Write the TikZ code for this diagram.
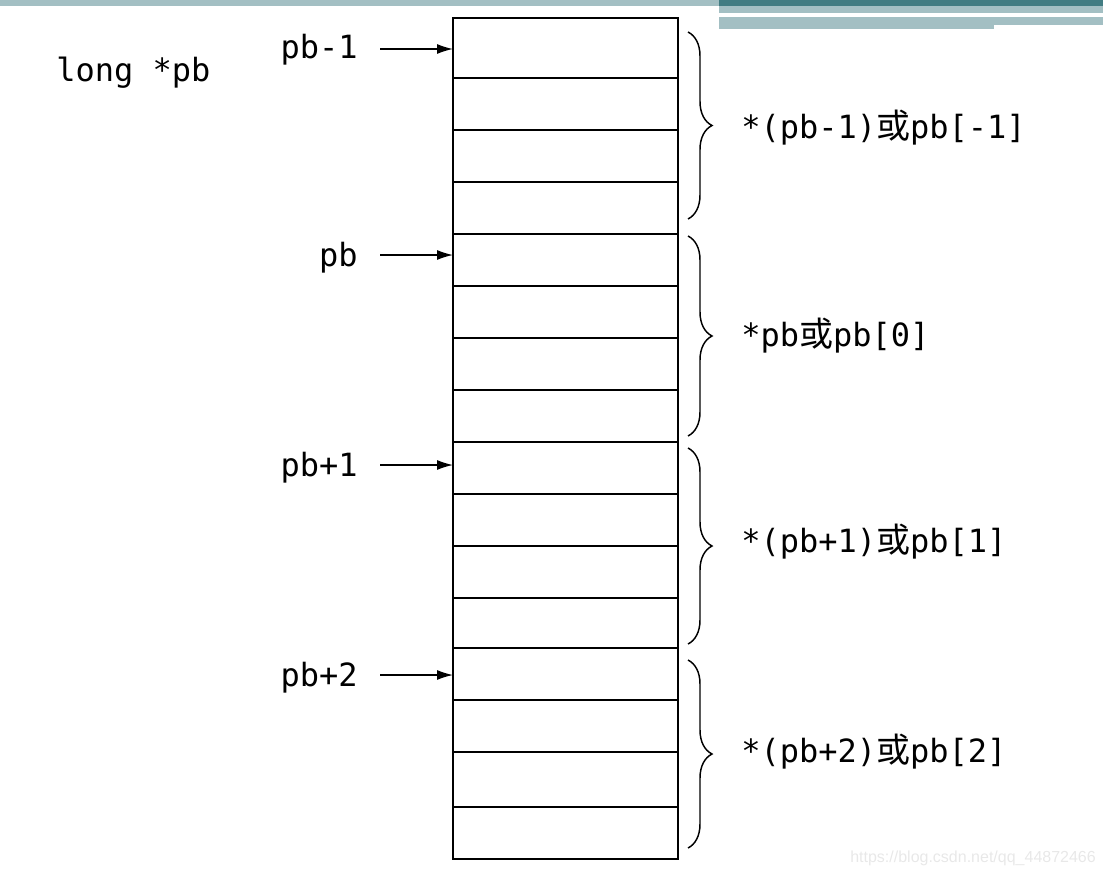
\documentclass[tikz,border=0pt]{standalone}
\usepackage{fontspec}
\setmonofont{DejaVu Sans Mono}
\newfontfamily\cjk{Noto Sans CJK SC}
\newfontfamily\wmfont{Liberation Sans}
\usetikzlibrary{arrows.meta,decorations.pathreplacing}
\definecolor{barlight}{HTML}{A3BFC3}
\definecolor{bardark}{HTML}{417C82}
\newcommand{\huo}{{\fontsize{25.5}{28}\cjk 或}}
\begin{document}
\begin{tikzpicture}[x=0.75pt,y=-0.75pt,
  cell/.style={draw=black,line width=1.5pt,minimum width=168.75pt,inner sep=0pt,outer sep=0pt},
  lbl/.style={font=\fontsize{24}{28}\ttfamily,inner sep=0pt},
  ptr/.style={line width=1pt,-{Latex[length=12pt,width=7.5pt]}},
  brc/.style={line width=1.1pt,decorate,decoration={brace,amplitude=18pt}}]
\useasboundingbox (0,0) rectangle (1103,874);
% top bars
\fill[barlight] (0,0) rectangle (719,6);
\fill[bardark] (719,0) rectangle (1103,6);
\fill[barlight] (719,6) rectangle (1103,13);
\fill[barlight] (719,17) rectangle (1103,25);
\fill[barlight] (719,25) rectangle (994,29);
% memory cells
\foreach \ta/\tb [count=\i] in {18/78,78/130,130/182,182/234,234/286,286/338,338/390,390/442,442/494,494/546,546/598,598/648,648/700,700/752,752/807,807/859}
  {\node[cell,minimum height={(\tb-\ta)*0.75pt}] (c\i) at (565.5,{(\ta+\tb)/2}) {};}
% declaration
\node[lbl,anchor=base west] (decl) at (56,82) {long *pb};
% pointer labels
\node[lbl,anchor=base east] (l1) at (358,59) {pb-1};
\node[lbl,anchor=base east] (l5) at (358,266) {pb};
\node[lbl,anchor=base east] (l9) at (358,476) {pb+1};
\node[lbl,anchor=base east] (l13) at (358,686) {pb+2};
% arrows
\coordinate (s1) at (380,49);
\coordinate (s5) at (380,255);
\coordinate (s9) at (380,465);
\coordinate (s13) at (380,675);
\draw[ptr] (s1) -- (c1.west |- s1);
\draw[ptr] (s5) -- (c5.west |- s5);
\draw[ptr] (s9) -- (c9.west |- s9);
\draw[ptr] (s13) -- (c13.west |- s13);
% braces
\coordinate (b1t) at (688,32);  \coordinate (b1b) at (688,219);
\coordinate (b2t) at (688,236); \coordinate (b2b) at (688,436);
\coordinate (b3t) at (688,448); \coordinate (b3b) at (688,644);
\coordinate (b4t) at (688,660); \coordinate (b4b) at (688,848);
\draw[brc] (b1t) -- (b1b);
\draw[brc] (b2t) -- (b2b);
\draw[brc] (b3t) -- (b3b);
\draw[brc] (b4t) -- (b4b);
% value labels
\node[lbl,anchor=base west] (v1) at (741,138) {*(pb-1)\huo pb[-1]};
\node[lbl,anchor=base west] (v2) at (741,346) {*pb\huo pb[0]};
\node[lbl,anchor=base west] (v3) at (741,552) {*(pb+1)\huo pb[1]};
\node[lbl,anchor=base west] (v4) at (741,762) {*(pb+2)\huo pb[2]};
% watermark
\node[font=\fontsize{12}{14}\wmfont,text=black!9,anchor=base west,inner sep=0pt] (wm) at (850,862) {https://blog.csdn.net/qq\_44872466};
\end{tikzpicture}
\end{document}
